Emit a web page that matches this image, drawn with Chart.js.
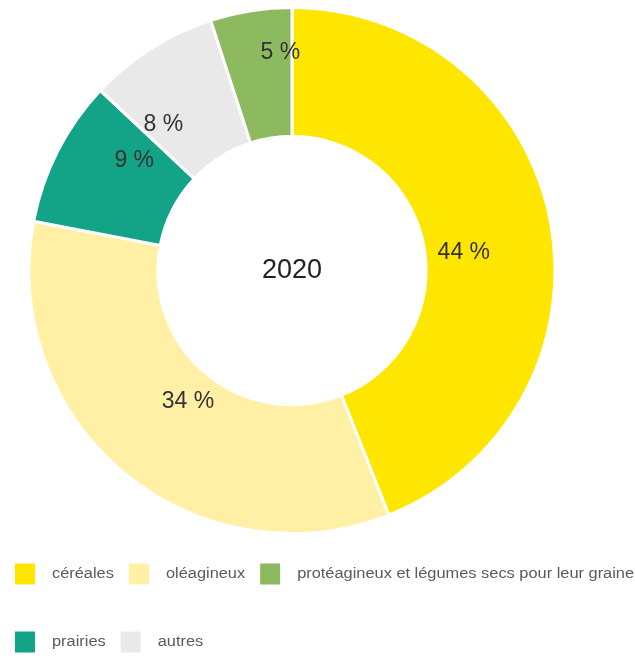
<!DOCTYPE html>
<html>
<head>
<meta charset="utf-8">
<script src="https://cdn.jsdelivr.net/npm/chart.js@4"></script>
<style>
  html, body { margin: 0; padding: 0; background: #ffffff; }
  #wrap { width: 635px; height: 658px; position: relative; }
</style>
</head>
<body>
<div id="wrap"><canvas id="c" width="635" height="658"></canvas></div>
<script>
// ---- data ----
const categories = ["céréales", "oléagineux", "prairies", "autres", "protéagineux et légumes secs pour leur graine"];
const shares = [44, 34, 9, 8, 5];
const sliceColors = ["#FFE600", "#FFF0A6", "#13A387", "#E9E9E9", "#8DBA5F"];
const legendOrder = [0, 1, 4, 2, 3];
const centerTitle = "2020";
// label placement inside each slice: fraction along the arc, fraction across the ring
const labelAngleFrac = [0.53, 0.49, 0.74, 0.19, 0.83];
const labelRadiusFrac = [0.30, 0.26, 0.45, 0.47, 0.65];

const labelsPlugin = {
  id: 'sliceLabels',
  afterDatasetsDraw(chart) {
    const ctx = chart.ctx;
    const meta = chart.getDatasetMeta(0);
    ctx.save();
    ctx.font = '23px "Liberation Sans", Arial, sans-serif';
    ctx.fillStyle = '#333333';
    ctx.textAlign = 'center';
    ctx.textBaseline = 'middle';
    meta.data.forEach((arc, i) => {
      const p = arc.getProps(['x', 'y', 'startAngle', 'endAngle', 'innerRadius', 'outerRadius'], true);
      const a = p.startAngle + (p.endAngle - p.startAngle) * labelAngleFrac[i];
      const r = p.innerRadius + (p.outerRadius - p.innerRadius) * labelRadiusFrac[i];
      ctx.fillText(shares[i] + ' %', p.x + r * Math.cos(a), p.y + r * Math.sin(a));
    });
    // center title
    const p0 = meta.data[0].getProps(['x', 'y'], true);
    ctx.font = '27px "Liberation Sans", Arial, sans-serif';
    ctx.fillStyle = '#222222';
    ctx.fillText(centerTitle, p0.x, p0.y);
    ctx.restore();
  }
};

const legendPlugin = {
  id: 'customLegend',
  afterDraw(chart) {
    const ctx = chart.ctx;
    const sx = 1.17;
    const boxW = 20, boxH = 21, gapBoxText = 17, gapItems = 15;
    const startX = 15, rowY = [574, 642];
    ctx.save();
    ctx.font = '14px "Liberation Sans", Arial, sans-serif';
    ctx.textBaseline = 'middle';
    ctx.textAlign = 'left';
    let x = startX, row = 0;
    legendOrder.forEach((idx, k) => {
      const txt = categories[idx];
      const tw = ctx.measureText(txt).width * sx;
      const w = boxW + gapBoxText + tw;
      if (k > 0 && x + w > chart.width) { row++; x = startX; }
      const y = rowY[Math.min(row, rowY.length - 1)];
      ctx.fillStyle = sliceColors[idx];
      ctx.fillRect(x, y - boxH / 2, boxW, boxH);
      ctx.save();
      ctx.translate(x + boxW + gapBoxText, y);
      ctx.scale(sx, 1);
      ctx.fillStyle = '#5a5a5a';
      ctx.fillText(txt, 0, 0);
      ctx.restore();
      x += w + gapItems;
    });
    ctx.restore();
  }
};

new Chart(document.getElementById('c'), {
  type: 'doughnut',
  data: {
    labels: categories,
    datasets: [{
      data: shares,
      backgroundColor: sliceColors,
      borderColor: '#ffffff',
      borderWidth: 3,
      hoverOffset: 0
    }]
  },
  options: {
    responsive: false,
    animation: false,
    cutout: '51%',
    layout: { padding: { top: 6, left: 0, right: 51, bottom: 123 } },
    plugins: {
      legend: { display: false },
      tooltip: { enabled: false },
      title: { display: false }
    }
  },
  plugins: [labelsPlugin, legendPlugin]
});
</script>
</body>
</html>
